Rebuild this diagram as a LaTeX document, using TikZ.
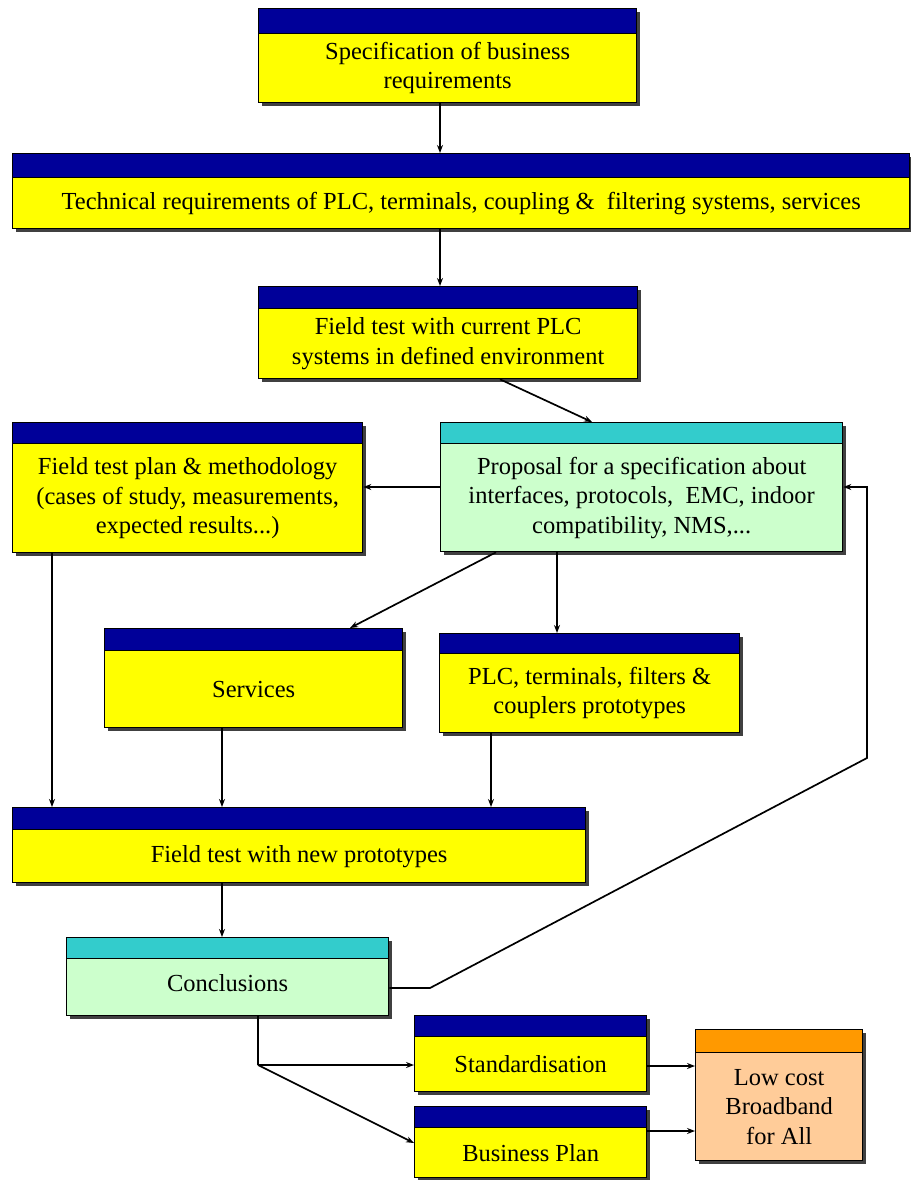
\documentclass[tikz,border=0pt]{standalone}
\usepackage{fontspec}
\setmainfont{Liberation Serif}
\newfontfamily\boxserif{Liberation Serif}
\usetikzlibrary{arrows.meta,shadows}

\definecolor{navyhead}{HTML}{000099}
\definecolor{boxyellow}{HTML}{FFFF00}
\definecolor{tealhead}{HTML}{33CCCC}
\definecolor{mintbody}{HTML}{CCFFCC}
\definecolor{orangehead}{HTML}{FF9900}
\definecolor{peachbody}{HTML}{FFCC99}
\definecolor{shade}{HTML}{404040}

\newcommand\boxfont{\boxserif\fontsize{24.5}{29.5}\selectfont}

% #1 name, #2 left, #3 top, #4 header bottom, #5 right, #6 bottom,
% #7 header colour, #8 body colour, #9 text
\newcommand\flowbox[9]{%
  \node[boxpart, fill=#7, minimum width={(#5-#2)*1pt},
        minimum height={(#4-#3)*1pt}] (#1h) at (#2,#3) {};
  \node[boxpart, fill=#8, minimum width={(#5-#2)*1pt},
        minimum height={(#6-#4)*1pt}, align=center, font=\boxfont,
        box/#1/.try] (#1) at (#2,#4) {#9};
}

\tikzset{
  boxpart/.style={rectangle, draw=black, line width=1.3pt, anchor=north west,
    inner sep=2pt, text=black,
    drop shadow={shadow xshift=3pt, shadow yshift=-3pt, fill=shade, opacity=1}},
  arr/.style={line width=1.7pt, -{Stealth[length=8pt,width=6pt]}},
  link/.style={line width=1.7pt},
  % the conclusions label sits a little above the middle of its box
  box/concl/.style={text depth=9pt}
}

\begin{document}
\begin{tikzpicture}[x=1pt,y=-1pt]
\useasboundingbox[fill=white] (0,0) rectangle (910,1180);

% boxes
\flowbox{spec}{258}{8}{33}{636}{102}{navyhead}{boxyellow}
  {Specification of business\\requirements}
\flowbox{tech}{12}{153}{177}{909}{228}{navyhead}{boxyellow}
  {Technical requirements of PLC, terminals, coupling \&~ filtering systems, services}
\flowbox{curr}{258}{286}{308}{637}{378}{navyhead}{boxyellow}
  {Field test with current PLC\\systems in defined environment}
\flowbox{plan}{12}{422}{443}{362}{552}{navyhead}{boxyellow}
  {Field test plan \& methodology\\(cases of study, measurements,\\expected results...)}
\flowbox{prop}{440}{422}{443}{842}{551}{tealhead}{mintbody}
  {Proposal for a specification about\\interfaces, protocols,~ EMC, indoor\\compatibility, NMS,...}
\flowbox{serv}{104}{628}{650}{402}{727}{navyhead}{boxyellow}
  {Services}
\flowbox{proto}{439}{633}{653}{739}{732}{navyhead}{boxyellow}
  {PLC, terminals, filters \&\\couplers prototypes}
\flowbox{newt}{12}{807}{829}{585}{882}{navyhead}{boxyellow}
  {Field test with new prototypes}
\flowbox{concl}{66}{937}{958}{388}{1015}{tealhead}{mintbody}
  {Conclusions}
\flowbox{stand}{414}{1015}{1036}{646}{1091}{navyhead}{boxyellow}
  {Standardisation}
\flowbox{bplan}{414}{1106}{1127}{646}{1177}{navyhead}{boxyellow}
  {Business Plan}
\flowbox{lowc}{695}{1029}{1052}{862}{1160}{orangehead}{peachbody}
  {Low cost\\Broadband\\for All}

% routing points
\coordinate (mainx) at (440,0);
\coordinate (currx) at (500,0);
\coordinate (propinx) at (592,0);
\coordinate (proplinky) at (0,487);
\coordinate (servoutx) at (496,0);
\coordinate (servinx) at (350,0);
\coordinate (protoinx) at (557,0);
\coordinate (planx) at (52,0);
\coordinate (servx) at (222,0);
\coordinate (protox) at (491,0);
\coordinate (loopTop) at (867,487);
\coordinate (loopBend) at (867,758);
\coordinate (loopFoot) at (430,988);
\coordinate (split) at (258,1065);
\coordinate (bplany) at (0,1143);
\coordinate (standy) at (0,1066);
\coordinate (bplanouty) at (0,1131);

% connectors
\draw[arr] (spec.south -| mainx) -- (techh.north -| mainx);
\draw[arr] (tech.south -| mainx) -- (currh.north -| mainx);
\draw[arr] (curr.south -| currx) -- (proph.north -| propinx);
\draw[arr] (prop.west |- proplinky) -- (plan.east |- proplinky);
\draw[arr] (prop.south -| servoutx) -- (servh.north -| servinx);
\draw[arr] (prop.south -| protoinx) -- (protoh.north -| protoinx);
\draw[arr] (plan.south -| planx) -- (newth.north -| planx);
\draw[arr] (serv.south -| servx) -- (newth.north -| servx);
\draw[arr] (proto.south -| protox) -- (newth.north -| protox);
\draw[arr] (newt.south -| servx) -- (conclh.north -| servx);
\draw[arr] (concl.east |- loopFoot) -- (loopFoot) -- (loopBend) -- (loopTop)
  -- (prop.east |- loopTop);
\draw[link] (concl.south -| split) -- (split);
\draw[arr] (split) -- (stand.west |- split);
\draw[arr] (split) -- (bplan.west |- bplany);
\draw[arr] (stand.east |- standy) -- (lowc.west |- standy);
\draw[arr] (bplan.east |- bplanouty) -- (lowc.west |- bplanouty);
\end{tikzpicture}
\end{document}
